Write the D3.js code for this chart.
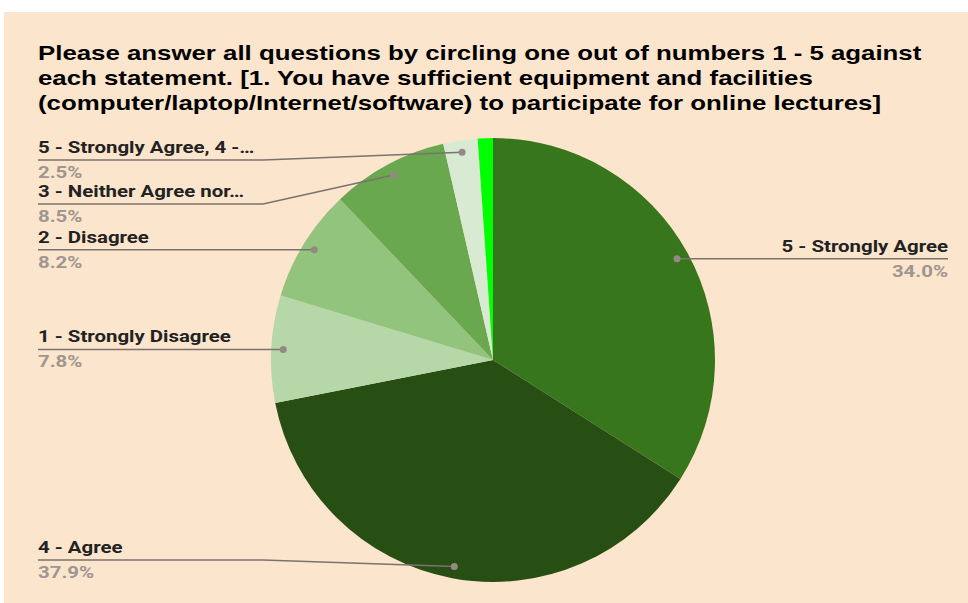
<!DOCTYPE html>
<html>
<head>
<meta charset="utf-8">
<script src="https://cdn.jsdelivr.net/npm/d3@7"></script>
<style>
  html, body { margin: 0; padding: 0; background: #ffffff; }
  svg { display: block; }
</style>
</head>
<body>
<svg id="chart" width="968" height="603"></svg>
<script>
// ---- data ----
const titleLines = [
  "Please answer all questions by circling one out of numbers 1 - 5 against",
  "each statement. [1. You have sufficient equipment and facilities",
  "(computer/laptop/Internet/software) to participate for online lectures]"
];
const categories = [
  "5 - Strongly Agree",
  "4 - Agree",
  "1 - Strongly Disagree",
  "2 - Disagree",
  "3 - Neither Agree nor…",
  "5 - Strongly Agree, 4 -…",
  "Other"
];
const values = [34.0, 37.9, 7.8, 8.2, 8.5, 2.5, 1.1];
const percentLabels = ["34.0%", "37.9%", "7.8%", "8.2%", "8.5%", "2.5%", ""];
const showLabel = [true, true, true, true, true, true, false];
const colors = ["#38761d", "#274e13", "#b6d7a8", "#93c47d", "#6aa84f", "#d9ead3", "#00ff00"];

// ---- layout ----
const W = 968, H = 603;
const cx = 493, cy = 360, R = 222, dotR = 210;
const leftX = 38, elbowX = 263, rightX = 948;
const minLeftY = 160, maxLeftY = 560, spacing = 44;
const titleSX = 1.23, labelSX = 1.2;

const svg = d3.select("#chart");
svg.append("rect").attr("x", 4).attr("y", 12).attr("width", W - 4).attr("height", H - 12)
  .attr("fill", "#fce5cd");

// title
titleLines.forEach((t, i) => {
  svg.append("text")
    .attr("transform", `translate(${leftX},${60 + i * 25}) scale(${titleSX},1)`)
    .attr("font-family", "'Liberation Sans', Arial, sans-serif")
    .attr("font-weight", "bold").attr("font-size", 21).attr("fill", "#000")
    .text(t);
});

const data = categories.map((c, i) => ({ name: c, value: values[i], pct: percentLabels[i], show: showLabel[i], color: colors[i] }));
const pie = d3.pie().value(d => d.value).sort(null);
const arcs = pie(data);
const arc = d3.arc().innerRadius(0).outerRadius(R);
const dotArc = d3.arc().innerRadius(dotR).outerRadius(dotR);

const g = svg.append("g").attr("transform", `translate(${cx},${cy})`);
g.selectAll("path.slice").data(arcs).join("path")
  .attr("class", "slice")
  .attr("d", arc)
  .attr("fill", d => d.data.color);

// label placement
const items = arcs.filter(a => a.data.show).map(a => {
  const [x, y] = dotArc.centroid(a);
  return { a, dx: cx + x, dy: cy + y, side: x >= 0 ? "right" : "left" };
});
const left = items.filter(d => d.side === "left").sort((p, q) => p.dy - q.dy);
let prev = -Infinity;
left.forEach(d => {
  d.ly = Math.max(d.dy, minLeftY, prev + spacing);
  d.ly = Math.min(d.ly, maxLeftY);
  prev = d.ly;
});
items.filter(d => d.side === "right").forEach(d => { d.ly = d.dy; });

const lab = svg.append("g");
items.forEach(d => {
  let path;
  if (d.side === "left") {
    path = `M${leftX},${d.ly} L${elbowX},${d.ly} L${d.dx},${d.dy}`;
  } else {
    path = `M${rightX},${d.ly} L${d.dx},${d.dy}`;
  }
  lab.append("path").attr("d", path).attr("fill", "none")
    .attr("stroke", "#7a726e").attr("stroke-width", 1.5);
  lab.append("circle").attr("cx", d.dx).attr("cy", d.dy).attr("r", 3.5).attr("fill", "#948a85");
  const tx = d.side === "left" ? leftX : rightX;
  const anchor = d.side === "left" ? "start" : "end";
  lab.append("text")
    .attr("transform", `translate(${tx},${d.ly - 7}) scale(${labelSX},1)`)
    .attr("text-anchor", anchor)
    .attr("font-family", "Roboto, 'Liberation Sans', Arial, sans-serif")
    .attr("font-weight", "bold").attr("font-size", 17).attr("fill", "#222222")
    .text(d.a.data.name);
  lab.append("text")
    .attr("transform", `translate(${tx},${d.ly + 18}) scale(${labelSX},1)`)
    .attr("text-anchor", anchor)
    .attr("font-family", "Roboto, 'Liberation Sans', Arial, sans-serif")
    .attr("font-weight", "bold").attr("font-size", 17).attr("fill", "#9e9690")
    .text(d.a.data.pct);
});
</script>
</body>
</html>
